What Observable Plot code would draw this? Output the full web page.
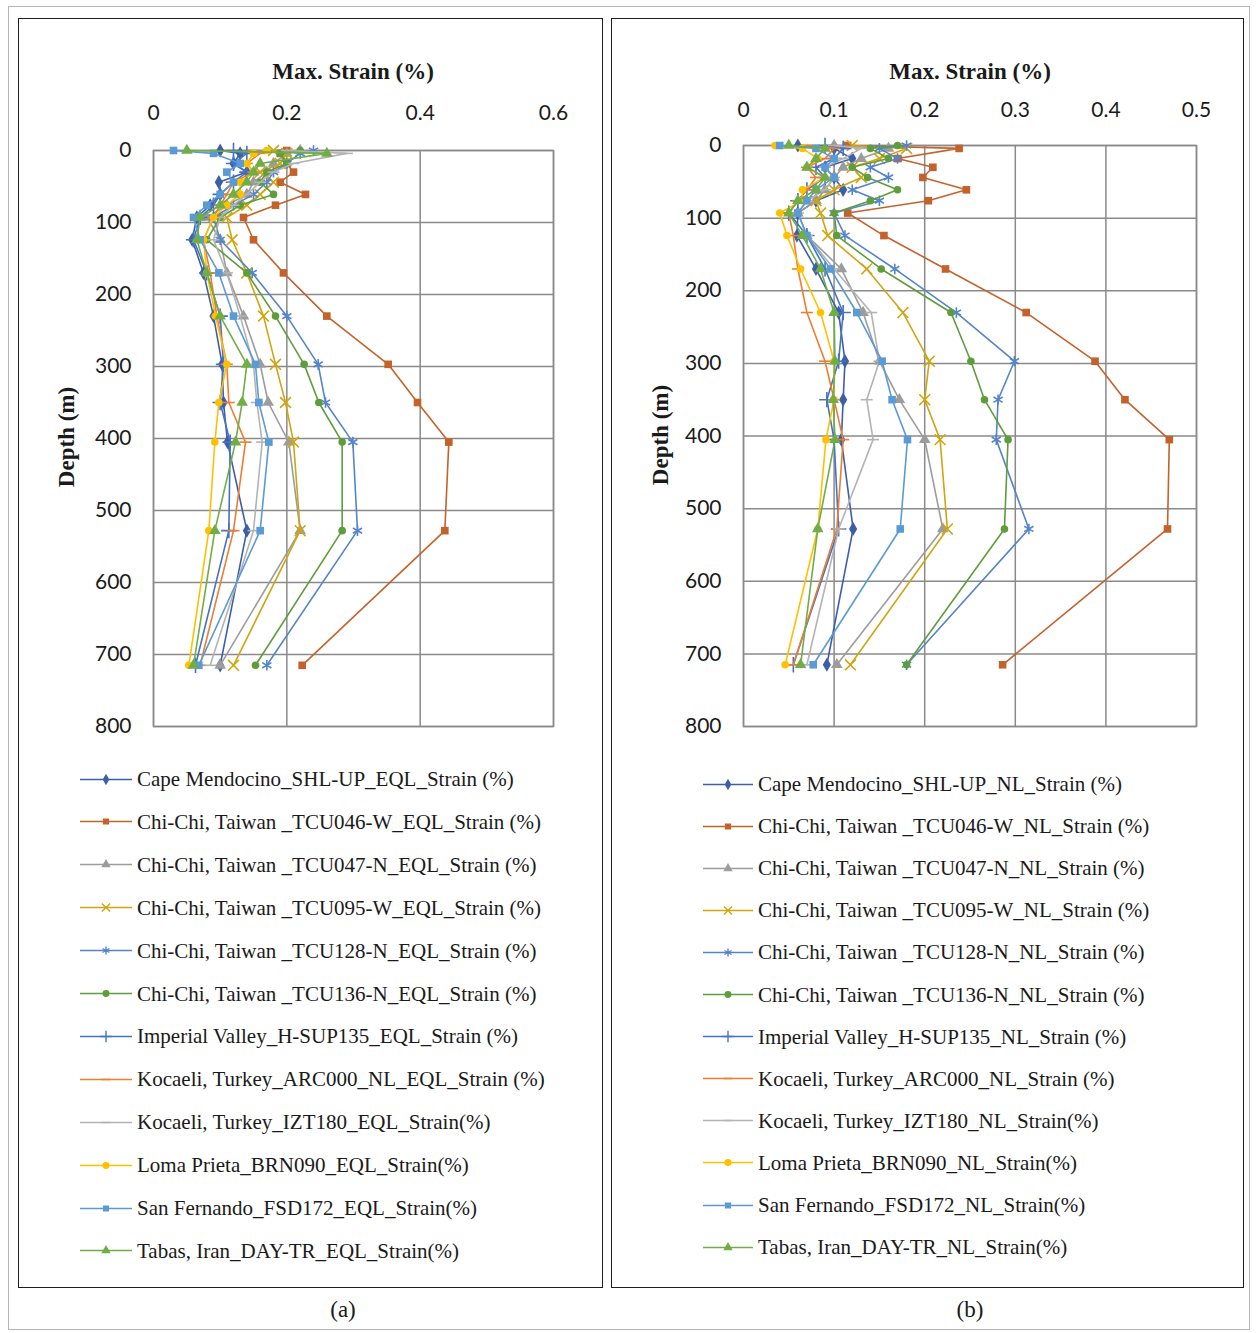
<!DOCTYPE html>
<html><head><meta charset="utf-8">
<script src="https://cdn.jsdelivr.net/npm/d3@7"></script>
<script src="https://cdn.jsdelivr.net/npm/@observablehq/plot@0.6"></script>
<style>
body{margin:0;background:#fff;width:1257px;height:1333px;position:relative;overflow:hidden;font-family:"Liberation Serif",serif;color:#1a1a1a;}
.abs{position:absolute;}
.outer{position:absolute;left:8px;top:6px;width:1242px;height:1324px;border:1px solid #b5b5b5;box-sizing:border-box;}
.panel{position:absolute;top:18px;height:1270px;border:1.5px solid #1e1e1e;box-sizing:border-box;}
.title{position:absolute;font-family:"Liberation Serif",serif;font-weight:bold;font-size:23px;white-space:nowrap;transform:translate(-50%,-50%);}
.ylab{position:absolute;font-family:"Liberation Serif",serif;font-weight:bold;font-size:23px;white-space:nowrap;transform:translate(-50%,-50%) rotate(-90deg);}
.leg{position:absolute;display:flex;align-items:center;font-size:21px;white-space:nowrap;transform:translateY(-50%);}
.leg svg{margin-right:5px;}
.cap{position:absolute;font-size:23px;transform:translate(-50%,-50%);}
</style>
</head><body>
<div class="outer"></div>
<div class="panel" style="left:18px;width:585px;"></div>
<div class="panel" style="left:611px;width:633px;"></div>
<div id="plotA" class="abs" style="left:18px;top:18px;"></div>
<div id="plotB" class="abs" style="left:611px;top:18px;"></div>
<div class="title" style="left:353px;top:72px;">Max. Strain (%)</div>
<div class="title" style="left:970px;top:72px;">Max. Strain (%)</div>
<div class="ylab" style="left:67px;top:437px;">Depth (m)</div>
<div class="ylab" style="left:661px;top:435px;">Depth (m)</div>
<div id="legA"></div>
<div id="legB"></div>
<div class="cap" style="left:343px;top:1310px;">(a)</div>
<div class="cap" style="left:970px;top:1310px;">(b)</div>
<script>
// ---- data ----
const depths = [0, 4, 18, 30, 44, 61, 76, 93, 124, 170, 230, 297, 350, 405, 528, 715];

const namesEQL = [
  "Cape Mendocino_SHL-UP_EQL_Strain (%)",
  "Chi-Chi, Taiwan _TCU046-W_EQL_Strain (%)",
  "Chi-Chi, Taiwan _TCU047-N_EQL_Strain (%)",
  "Chi-Chi, Taiwan _TCU095-W_EQL_Strain (%)",
  "Chi-Chi, Taiwan _TCU128-N_EQL_Strain (%)",
  "Chi-Chi, Taiwan _TCU136-N_EQL_Strain (%)",
  "Imperial Valley_H-SUP135_EQL_Strain (%)",
  "Kocaeli, Turkey_ARC000_NL_EQL_Strain (%)",
  "Kocaeli, Turkey_IZT180_EQL_Strain(%)",
  "Loma Prieta_BRN090_EQL_Strain(%)",
  "San Fernando_FSD172_EQL_Strain(%)",
  "Tabas, Iran_DAY-TR_EQL_Strain(%)"
];
const namesNL = [
  "Cape Mendocino_SHL-UP_NL_Strain (%)",
  "Chi-Chi, Taiwan _TCU046-W_NL_Strain (%)",
  "Chi-Chi, Taiwan _TCU047-N_NL_Strain (%)",
  "Chi-Chi, Taiwan _TCU095-W_NL_Strain (%)",
  "Chi-Chi, Taiwan _TCU128-N_NL_Strain (%)",
  "Chi-Chi, Taiwan _TCU136-N_NL_Strain (%)",
  "Imperial Valley_H-SUP135_NL_Strain (%)",
  "Kocaeli, Turkey_ARC000_NL_Strain (%)",
  "Kocaeli, Turkey_IZT180_NL_Strain(%)",
  "Loma Prieta_BRN090_NL_Strain(%)",
  "San Fernando_FSD172_NL_Strain(%)",
  "Tabas, Iran_DAY-TR_NL_Strain(%)"
];

// EQL (panel a)
const eqlCape    = [0.10, 0.13, 0.12, 0.14, 0.098, 0.10, 0.085, 0.065, 0.058, 0.075, 0.09, 0.103, 0.105, 0.111, 0.14, 0.10];
const eqlTCU046  = [0.20, 0.19, 0.20, 0.21, 0.19, 0.228, 0.183, 0.135, 0.15, 0.195, 0.26, 0.352, 0.396, 0.443, 0.437, 0.223];
const eqlTCU047  = [0.22, 0.20, 0.18, 0.17, 0.15, 0.14, 0.11, 0.08, 0.10, 0.11, 0.135, 0.16, 0.172, 0.203, 0.22, 0.10];
const eqlTCU095  = [0.18, 0.20, 0.19, 0.16, 0.18, 0.16, 0.14, 0.11, 0.118, 0.14, 0.165, 0.183, 0.198, 0.21, 0.22, 0.12];
const eqlTCU128  = [0.24, 0.22, 0.20, 0.18, 0.17, 0.15, 0.12, 0.09, 0.10, 0.148, 0.20, 0.247, 0.258, 0.299, 0.306, 0.17];
const eqlTCU136  = [0.22, 0.19, 0.20, 0.17, 0.16, 0.18, 0.13, 0.10, 0.08, 0.14, 0.183, 0.226, 0.248, 0.283, 0.283, 0.153];
const eqlImperial= [0.12, 0.14, 0.12, 0.14, 0.12, 0.10, 0.09, 0.07, 0.06, 0.08, 0.10, 0.105, 0.10, 0.115, 0.113, 0.063];
const eqlARC000  = [0.15, 0.16, 0.14, 0.15, 0.12, 0.11, 0.10, 0.09, 0.075, 0.085, 0.095, 0.11, 0.113, 0.138, 0.12, 0.07];
const eqlIZT180  = [0.20, 0.29, 0.21, 0.18, 0.16, 0.14, 0.12, 0.10, 0.09, 0.11, 0.13, 0.15, 0.155, 0.163, 0.15, 0.085];
const eqlLoma    = [0.17, 0.15, 0.14, 0.15, 0.13, 0.13, 0.11, 0.09, 0.075, 0.08, 0.093, 0.11, 0.098, 0.092, 0.083, 0.053];
const eqlSanFer  = [0.03, 0.09, 0.13, 0.11, 0.12, 0.10, 0.08, 0.06, 0.07, 0.098, 0.12, 0.153, 0.158, 0.173, 0.16, 0.068];
const eqlTabas   = [0.05, 0.26, 0.16, 0.15, 0.14, 0.12, 0.10, 0.07, 0.065, 0.08, 0.10, 0.14, 0.133, 0.123, 0.092, 0.06];

// NL (panel b)
const nlCape     = [0.06, 0.10, 0.12, 0.09, 0.10, 0.11, 0.08, 0.06, 0.059, 0.08, 0.105, 0.112, 0.11, 0.108, 0.121, 0.092];
const nlTCU046   = [0.115, 0.238, 0.17, 0.209, 0.198, 0.246, 0.204, 0.115, 0.155, 0.223, 0.312, 0.388, 0.421, 0.47, 0.468, 0.286];
const nlTCU047   = [0.10, 0.16, 0.13, 0.11, 0.10, 0.09, 0.08, 0.06, 0.07, 0.108, 0.132, 0.15, 0.172, 0.20, 0.22, 0.103];
const nlTCU095   = [0.12, 0.18, 0.15, 0.12, 0.13, 0.10, 0.08, 0.085, 0.093, 0.136, 0.176, 0.205, 0.20, 0.217, 0.225, 0.118];
const nlTCU128   = [0.18, 0.15, 0.17, 0.14, 0.16, 0.12, 0.15, 0.10, 0.112, 0.167, 0.235, 0.299, 0.281, 0.279, 0.315, 0.18];
const nlTCU136   = [0.17, 0.14, 0.16, 0.12, 0.137, 0.17, 0.14, 0.10, 0.103, 0.152, 0.229, 0.251, 0.266, 0.292, 0.288, 0.18];
const nlImperial = [0.09, 0.11, 0.10, 0.08, 0.09, 0.07, 0.06, 0.05, 0.07, 0.09, 0.11, 0.105, 0.092, 0.10, 0.105, 0.055];
const nlARC000   = [0.07, 0.10, 0.09, 0.07, 0.08, 0.07, 0.06, 0.05, 0.055, 0.06, 0.07, 0.09, 0.10, 0.11, 0.103, 0.055];
const nlIZT180   = [0.10, 0.13, 0.11, 0.09, 0.10, 0.09, 0.07, 0.06, 0.07, 0.10, 0.141, 0.15, 0.136, 0.143, 0.105, 0.07];
const nlLoma     = [0.035, 0.065, 0.082, 0.07, 0.09, 0.065, 0.065, 0.04, 0.048, 0.063, 0.085, 0.10, 0.10, 0.091, 0.082, 0.046];
const nlSanFer   = [0.04, 0.08, 0.10, 0.09, 0.10, 0.08, 0.07, 0.06, 0.07, 0.096, 0.125, 0.153, 0.164, 0.181, 0.173, 0.077];
const nlTabas    = [0.05, 0.09, 0.08, 0.07, 0.09, 0.08, 0.06, 0.05, 0.065, 0.085, 0.10, 0.101, 0.099, 0.101, 0.082, 0.063];

const xTicksA = [0, 0.2, 0.4, 0.6];
const xTicksB = [0, 0.1, 0.2, 0.3, 0.4, 0.5];
const yTicks = [0, 100, 200, 300, 400, 500, 600, 700, 800];

const colors = ["#3d5fa8", "#c4622b", "#9c9c9c", "#cfa611", "#5585c8", "#5f9c3c",
                "#4472c4", "#ed7d31", "#b3b3b3", "#ffc000", "#5b9bd5", "#70ad47"];
const markers = ["diamond", "square", "triangle", "times", "asterisk", "circle",
                 "plus", "dash", "dash", "circle", "square", "triangle"];

const seriesA = [eqlCape, eqlTCU046, eqlTCU047, eqlTCU095, eqlTCU128, eqlTCU136,
                 eqlImperial, eqlARC000, eqlIZT180, eqlLoma, eqlSanFer, eqlTabas];
const seriesB = [nlCape, nlTCU046, nlTCU047, nlTCU095, nlTCU128, nlTCU136,
                 nlImperial, nlARC000, nlIZT180, nlLoma, nlSanFer, nlTabas];

// ---- drawing ----
const dashSymbol = {draw(ctx, size) { const r = Math.sqrt(size / Math.PI) * 1.2; ctx.moveTo(-r, 0); ctx.lineTo(r, 0); }};
const strokeOnly = new Set(["times", "asterisk", "plus", "dash"]);
function symOf(m) { return m === "dash" ? dashSymbol : m; }

function dotMark(rows, i) {
  const m = markers[i];
  if (strokeOnly.has(m)) {
    return Plot.dot(rows, {x: "strain", y: "depth", symbol: () => symOf(m), r: 5, stroke: colors[i], fill: "none", strokeWidth: 1.6});
  }
  return Plot.dot(rows, {x: "strain", y: "depth", symbol: () => m, r: m === "circle" ? 3.8 : 4.3, fill: colors[i], stroke: "none"});
}

function panel(el, series, xDomain, xTicks, o) {
  const marks = [
    Plot.gridX(xTicks, {stroke: "#8a8a8a", strokeOpacity: 1, strokeWidth: 1.5}),
    Plot.gridY(yTicks, {stroke: "#8a8a8a", strokeOpacity: 1, strokeWidth: 1.5}),
    Plot.frame({stroke: "#8a8a8a", strokeWidth: 1.5}),
    Plot.axisX({anchor: "top", ticks: xTicks, tickSize: 0, tickPadding: o.xPad, label: null, tickFormat: d => String(d)}),
    Plot.axisY({ticks: yTicks, tickSize: 0, tickPadding: o.yPad, label: null, tickFormat: d => String(d)})
  ];
  series.forEach((vals, i) => {
    const rows = depths.map((d, k) => ({depth: d, strain: vals[k]}));
    marks.push(Plot.line(rows, {x: "strain", y: "depth", stroke: colors[i], strokeWidth: 1.6}));
    marks.push(dotMark(rows, i));
  });
  const chart = Plot.plot({
    width: o.width, height: 740,
    marginLeft: o.ml, marginRight: o.mr, marginTop: o.mt, marginBottom: 32,
    x: {domain: xDomain, type: "linear"},
    y: {domain: [0, 800], reverse: true},
    style: {fontFamily: "Lato, 'Open Sans', sans-serif", fontSize: "21px", color: "#1a1a1a", background: "transparent", overflow: "visible"},
    marks
  });
  document.getElementById(el).appendChild(chart);
}

panel("plotA", seriesA, [0, 0.6], xTicksA, {width: 584, ml: 135, mr: 49, mt: 132, xPad: 31, yPad: 22});
panel("plotB", seriesB, [0, 0.5], xTicksB, {width: 632, ml: 132, mr: 47, mt: 127, xPad: 29, yPad: 22});

function legend(el, names, left, top0, step, swW) {
  const host = document.getElementById(el);
  names.forEach((n, i) => {
    const row = document.createElement("div");
    row.className = "leg";
    row.style.left = left + "px";
    row.style.top = (top0 + i * step) + "px";
    const svg = d3.create("svg").attr("width", swW).attr("height", 14);
    svg.append("line").attr("x1", 0).attr("x2", swW).attr("y1", 7).attr("y2", 7).attr("stroke", colors[i]).attr("stroke-width", 1.6);
    const m = markers[i];
    const typeMap = {diamond: d3.symbolDiamond, square: d3.symbolSquare, triangle: d3.symbolTriangle, circle: d3.symbolCircle,
                     times: d3.symbolTimes, asterisk: d3.symbolAsterisk, plus: d3.symbolPlus, dash: dashSymbol};
    const sz = strokeOnly.has(m) ? 45 : 38;
    const p = svg.append("path").attr("transform", `translate(${swW / 2},7)`).attr("d", d3.symbol(typeMap[m], sz)());
    if (strokeOnly.has(m)) p.attr("fill", "none").attr("stroke", colors[i]).attr("stroke-width", 1.4);
    else p.attr("fill", colors[i]);
    row.appendChild(svg.node());
    const t = document.createElement("span");
    t.textContent = n;
    row.appendChild(t);
    host.appendChild(row);
  });
}
legend("legA", namesEQL, 80, 779, 42.9, 52);
legend("legB", namesNL, 703, 784, 42.1, 50);
</script>
</body></html>
